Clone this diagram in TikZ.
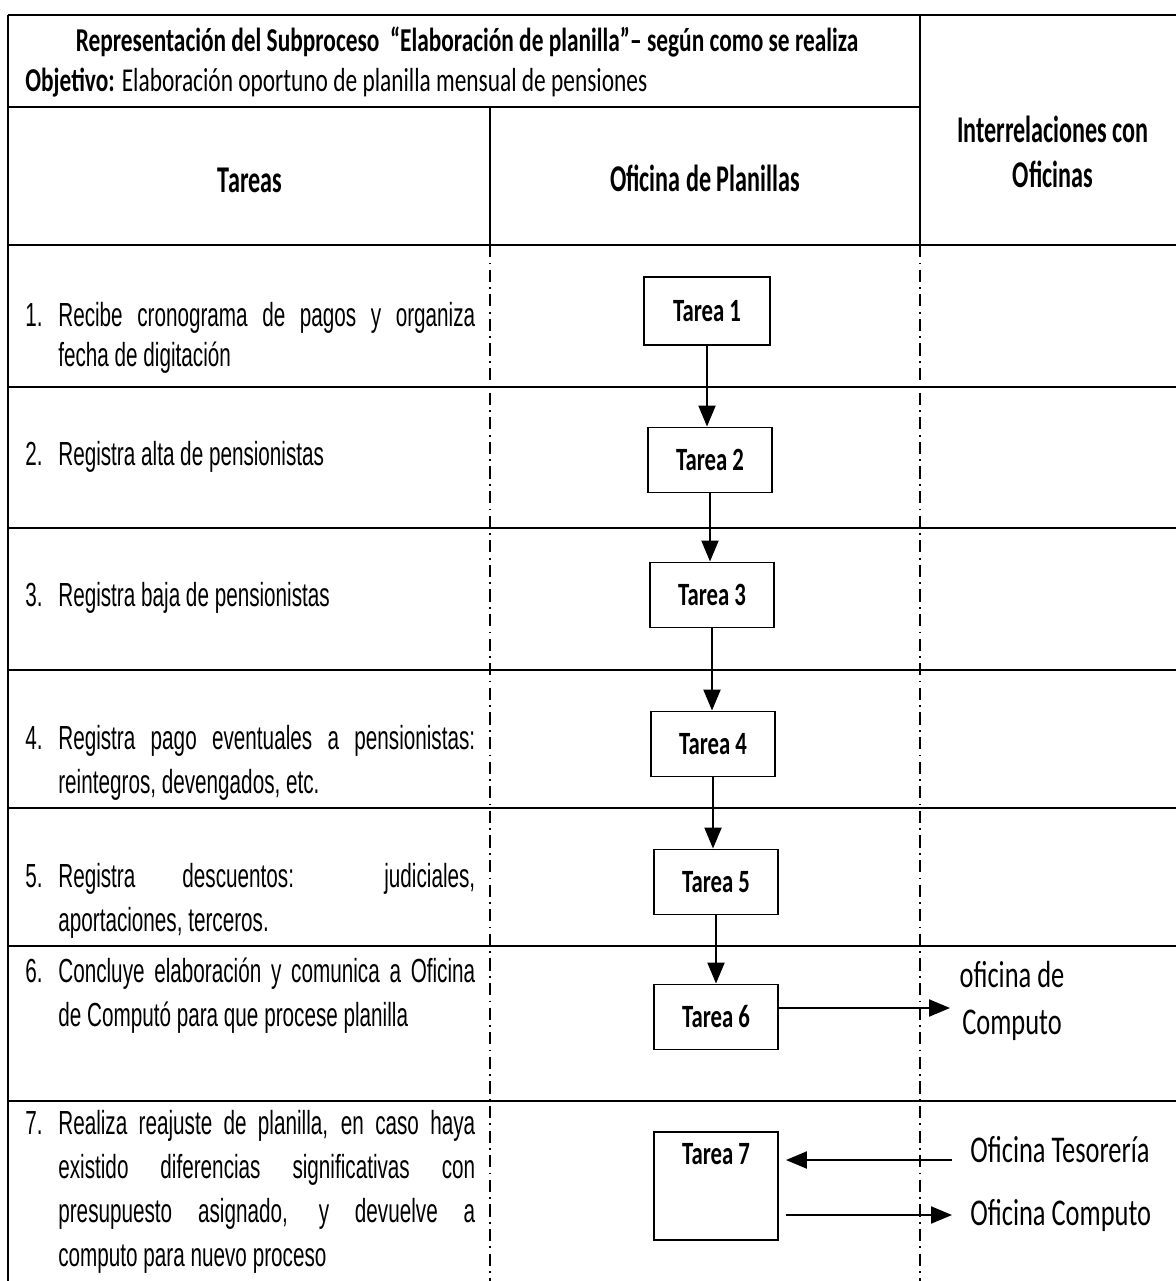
\documentclass[tikz,border=0pt]{standalone}
\usepackage{fontspec}
\setmainfont{Liberation Sans}[FakeStretch=0.62]
\newfontfamily\calib{Carlito}[FakeStretch=0.7]
\newfontfamily\calibn{Carlito}[FakeStretch=0.64]
\usetikzlibrary{arrows.meta}

\tikzset{
  gridline/.style={line width=1.3pt},
  lane/.style={line width=0.8pt, dash pattern=on 7pt off 3pt on 1pt off 3pt},
  tarea/.style={draw, line width=1.1pt, minimum width=2.48cm, minimum height=1.3cm,
    inner sep=0pt, font=\calib\bfseries\fontsize{18.5}{20}\selectfont},
  flow/.style={line width=1.2pt, -{Triangle[width=0.34cm,length=0.42cm]}},
  task/.style={anchor=west, inner sep=0pt, font=\fontsize{19}{25}\selectfont},
  head/.style={align=center, inner sep=0pt, font=\calibn\bfseries\fontsize{21.5}{25.6}\selectfont},
  office/.style={inner sep=0pt, font=\calib\fontsize{21.5}{27}\selectfont},
}
\newcommand{\tasktext}[2]{\makebox[0.66cm][l]{#1}\parbox[t]{8.34cm}{#2}}

\begin{document}
\begin{tikzpicture}[x=0.02cm, y=-0.02cm]
    \useasboundingbox (0,0) rectangle (1176,1281);

    % table frame
    \draw[gridline] (8,15) -- (1176,15);
    \draw[gridline] (8,15) -- (8,1281);
    \draw[gridline] (920,15) -- (920,245);
    \draw[gridline] (8,107) -- (920,107);
    \draw[gridline] (490,107) -- (490,245);
    \foreach \y in {245,387,528,670,808,946,1101}
        \draw[gridline] (8,\y) -- (1176,\y);
    \draw[lane] (490,245) -- (490,1281);
    \draw[lane] (920,245) -- (920,1281);

    % header
    \node[inner sep=0pt, font=\calib\bfseries\fontsize{19}{22}\selectfont] (title) at (467,42)
        {Representación del Subproceso \ “Elaboración de planilla”– según como se realiza};
    \node[anchor=west, inner sep=0pt, font=\calib\fontsize{19}{22}\selectfont] (obj) at (25,83)
        {\textbf{Objetivo:} Elaboración oportuno de planilla mensual de pensiones};
    \node[head] (hTareas) at (250,180) {Tareas};
    \node[head] (hOficina) at (705,178) {Oficina de Planillas};
    \node[head] (hInter) at (1053,152) {Interrelaciones con\\Oficinas};

    % tasks
    \node[task, font=\fontsize{19}{23}\selectfont] (k1) at (25,338)
        {\tasktext{1.}{Recibe cronograma de pagos y organiza\linebreak fecha de digitación}};
    \node[task] (k2) at (25,457) {\tasktext{2.}{Registra alta de pensionistas}};
    \node[task] (k3) at (25,598) {\tasktext{3.}{Registra baja de pensionistas}};
    \node[task] (k4) at (25,763)
        {\tasktext{4.}{Registra pago eventuales a pensionistas:\linebreak reintegros, devengados, etc.}};
    \node[task] (k5) at (25,901)
        {\tasktext{5.}{Registra descuentos: judiciales,\linebreak aportaciones, terceros.}};
    \node[task] (k6) at (25,996)
        {\tasktext{6.}{Concluye elaboración y comunica a Oficina\linebreak de Computó para que procese planilla}};
    \node[task] (k7) at (25,1192)
        {\tasktext{7.}{Realiza reajuste de planilla, en caso haya\linebreak existido diferencias significativas con\linebreak
         presupuesto asignado, y devuelve a\linebreak computo para nuevo proceso}};

    % flow boxes
    \node[tarea, minimum width=2.52cm, minimum height=1.36cm] (t1) at (707,311) {Tarea 1};
    \node[tarea] (t2) at (710,460) {Tarea 2};
    \node[tarea] (t3) at (712,595) {Tarea 3};
    \node[tarea] (t4) at (713,744) {Tarea 4};
    \node[tarea] (t5) at (716,882) {Tarea 5};
    \node[tarea] (t6) at (716,1017) {Tarea 6};
    \node[tarea, minimum height=2.16cm, text depth=1.3cm] (t7) at (716,1186) {Tarea 7};

    \foreach \a/\b in {t1/t2,t2/t3,t3/t4,t4/t5,t5/t6}
        \draw[flow] (\a.south) -- (\a.south |- \b.north);

    % links with other offices
    \coordinate (toComp) at (950,1008);
    \coordinate (fromTes) at (952,1160);
    \coordinate (toComp2) at (952,1215);
    \draw[flow] (t6.east |- toComp) -- (toComp);
    \draw[flow, shorten >=0.14cm] (fromTes) -- (t7.east |- fromTes);
    \draw[flow, shorten <=0.14cm] (t7.east |- toComp2) -- (toComp2);

    \node[office, align=center] (oComp) at (1012,1001) {oficina de\\Computo};
    \node[office, anchor=west] (oTes) at (970,1150) {Oficina Tesorería};
    \node[office, anchor=west] (oComp2) at (970,1215) {Oficina Computo};
\end{tikzpicture}
\end{document}
